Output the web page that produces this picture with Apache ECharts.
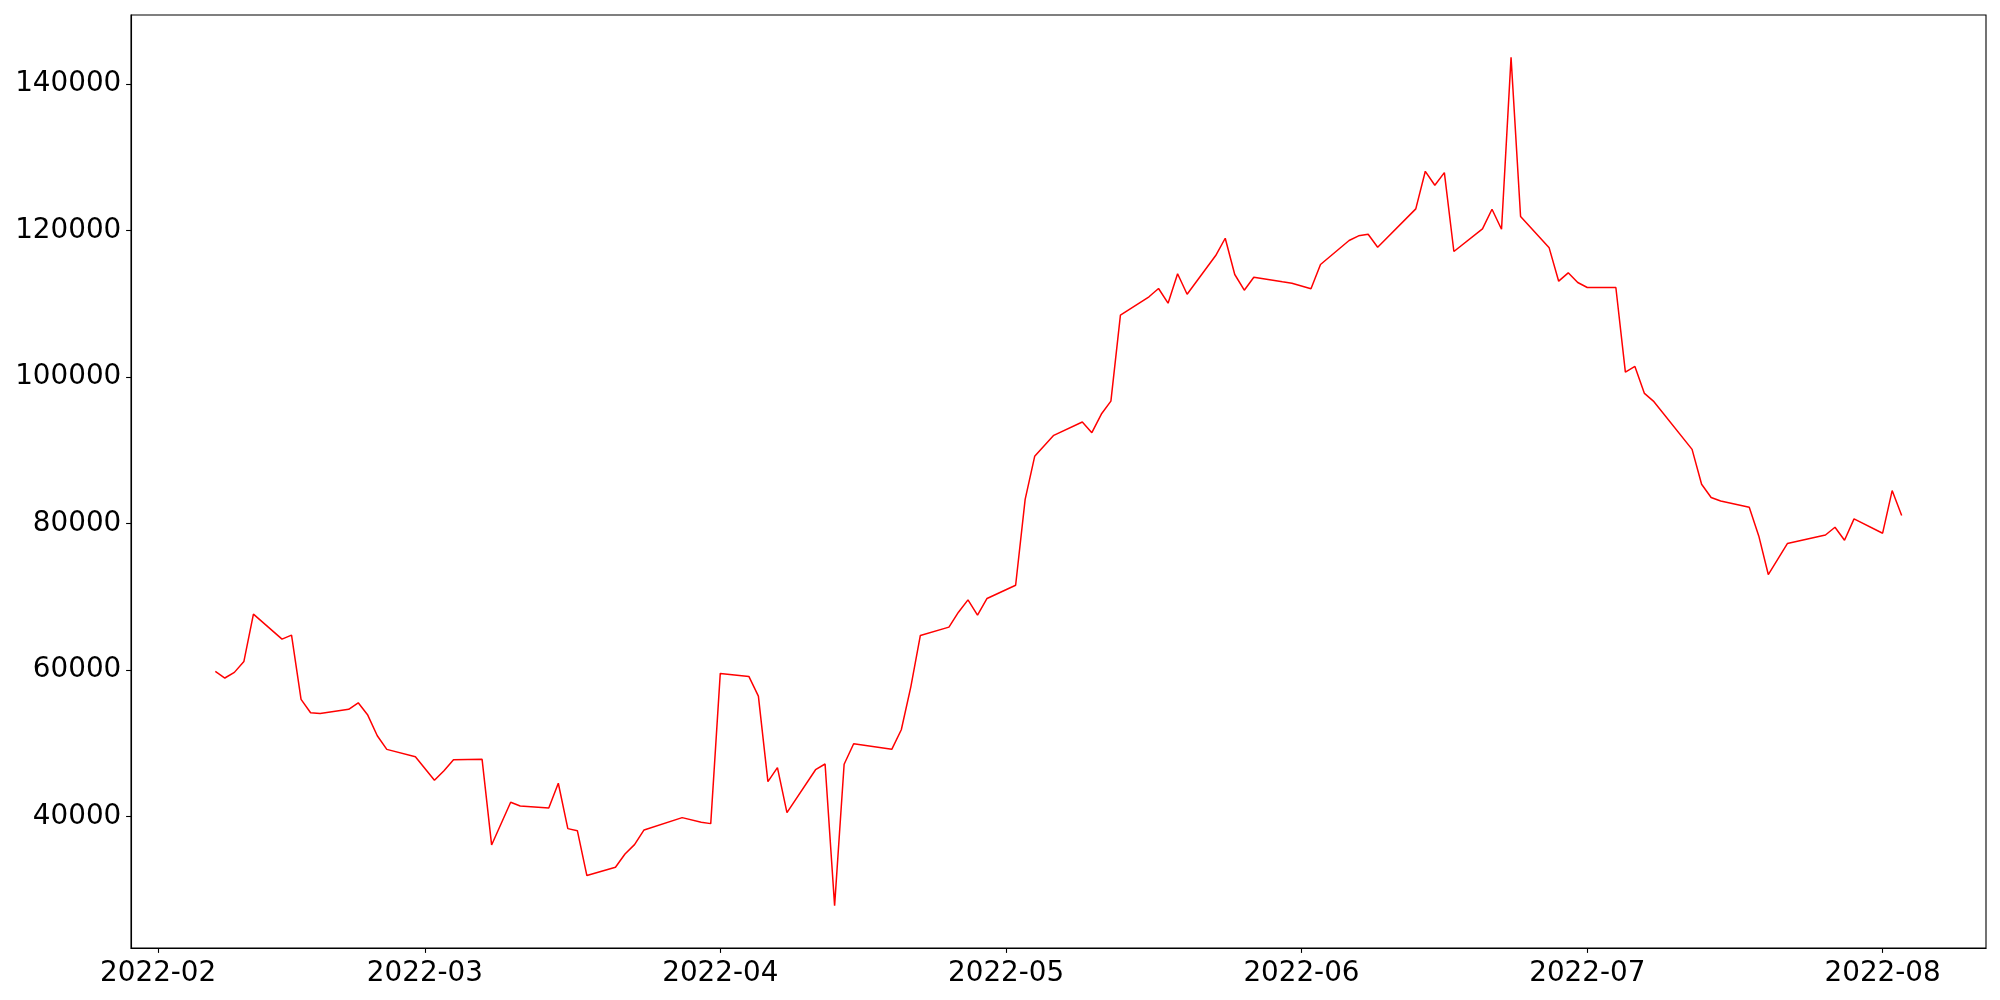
<!DOCTYPE html>
<html>
<head>
<meta charset="utf-8">
<script src="https://cdn.jsdelivr.net/npm/echarts@6/dist/echarts.min.js"></script>
<style>
html,body{margin:0;padding:0;background:#fff;}
#chart{width:2000px;height:1000px;}
</style>
</head>
<body>
<div id="chart"></div>
<script>
const dates = ['2022-02-07','2022-02-08','2022-02-09','2022-02-10','2022-02-11','2022-02-14','2022-02-15','2022-02-16','2022-02-17','2022-02-18','2022-02-21','2022-02-22','2022-02-23','2022-02-24','2022-02-25','2022-02-28',
'2022-03-02','2022-03-03','2022-03-04','2022-03-07','2022-03-08','2022-03-10','2022-03-11','2022-03-14','2022-03-15','2022-03-16','2022-03-17','2022-03-18','2022-03-21','2022-03-22','2022-03-23','2022-03-24','2022-03-28','2022-03-30','2022-03-31',
'2022-04-01','2022-04-04','2022-04-05','2022-04-06','2022-04-07','2022-04-08','2022-04-11','2022-04-12','2022-04-13','2022-04-14','2022-04-15','2022-04-19','2022-04-20','2022-04-21','2022-04-22','2022-04-25','2022-04-26','2022-04-27','2022-04-28','2022-04-29',
'2022-05-02','2022-05-03','2022-05-04','2022-05-06','2022-05-09','2022-05-10','2022-05-11','2022-05-12','2022-05-13','2022-05-16','2022-05-17','2022-05-18','2022-05-19','2022-05-20','2022-05-23','2022-05-24','2022-05-25','2022-05-26','2022-05-27','2022-05-30','2022-05-31',
'2022-06-02','2022-06-03','2022-06-06','2022-06-07','2022-06-08','2022-06-09','2022-06-13','2022-06-14','2022-06-15','2022-06-16','2022-06-17','2022-06-20','2022-06-21','2022-06-22','2022-06-23','2022-06-24','2022-06-27','2022-06-28','2022-06-29','2022-06-30',
'2022-07-01','2022-07-04','2022-07-05','2022-07-06','2022-07-07','2022-07-08','2022-07-12','2022-07-13','2022-07-14','2022-07-15','2022-07-18','2022-07-19','2022-07-20','2022-07-22','2022-07-26','2022-07-27','2022-07-28','2022-07-29',
'2022-08-01','2022-08-02','2022-08-03'];

const values = [59800,58900,59670,61170,67620,64210,64760,55980,54160,54070,54620,55520,53840,51020,49160,48160,
44940,46250,47750,47800,36110,41940,41430,41160,44530,38340,38060,31930,33070,34880,36150,38160,39840,39210,39020,
59530,59120,56430,44750,46660,40520,46380,47160,27830,47120,49930,49160,51840,57700,64710,65850,67890,69570,67480,69760,
71570,83300,89170,92030,93850,92400,94940,96710,108440,110950,112080,110080,114100,111300,116580,118940,113990,111850,113620,113000,112800,
112040,115360,118630,119270,119490,117710,122950,128080,126170,127900,117130,120220,122900,120170,143630,121900,117630,113080,114220,112900,
112220,112220,100670,101440,97760,96630,90120,85350,83540,83070,82210,78300,73030,77260,78430,79480,77710,80620,
78670,84490,81080];

const yTicks = [40000,60000,80000,100000,120000,140000];
const xTickLabels = ['2022-02','2022-03','2022-04','2022-05','2022-06','2022-07','2022-08'];

function toTs(s){ const p = s.split('-').map(Number); return Date.UTC(p[0], p[1]-1, p[2] || 1); }
const seriesData = dates.map((d,i)=>[toTs(d), values[i]]);
const xTickValues = xTickLabels.map(toTs);

const t0 = seriesData[0][0], t1 = seriesData[seriesData.length-1][0];
const xPad = (t1 - t0) * 0.05;
const vMin = Math.min.apply(null, values), vMax = Math.max.apply(null, values);
const yPad = (vMax - vMin) * 0.05;

function fmtMonth(v){
  const d = new Date(v);
  const m = d.getUTCMonth()+1;
  return d.getUTCFullYear() + '-' + (m<10?'0':'') + m;
}

const font = 'DejaVu Sans';
const chart = echarts.init(document.getElementById('chart'), null, {renderer:'canvas'});
chart.setOption({
  animation: false,
  backgroundColor: '#fff',
  grid: {left:131, right:14, top:15, bottom:52, show:true, borderColor:'#000', borderWidth:1.1, backgroundColor:'transparent', containLabel:false},
  xAxis: {
    type:'value',
    scale:true,
    min: t0 - xPad,
    max: t1 + xPad,
    axisLine:{show:true, lineStyle:{color:'#000', width:1.1}},
    axisTick:{show:true, inside:false, length:4.9, lineStyle:{color:'#000', width:1.1}, customValues: xTickValues},
    axisLabel:{show:true, color:'#000', fontFamily:font, fontSize:27.8, margin:12, customValues: xTickValues, formatter: fmtMonth},
    splitLine:{show:false}
  },
  yAxis: {
    type:'value',
    scale:true,
    min: vMin - yPad,
    max: vMax + yPad,
    axisLine:{show:true, lineStyle:{color:'#000', width:1.1}},
    axisTick:{show:true, inside:false, length:4.9, lineStyle:{color:'#000', width:1.1}, customValues: yTicks},
    axisLabel:{show:true, color:'#000', fontFamily:font, fontSize:27.8, margin:9.7, customValues: yTicks, formatter: v => String(v)},
    splitLine:{show:false}
  },
  series: [{
    type:'line',
    data: seriesData,
    showSymbol:false,
    symbol:'none',
    lineStyle:{color:'#ff0000', width:1.5},
    itemStyle:{color:'#ff0000'},
    silent:true
  }]
});
</script>
</body>
</html>
